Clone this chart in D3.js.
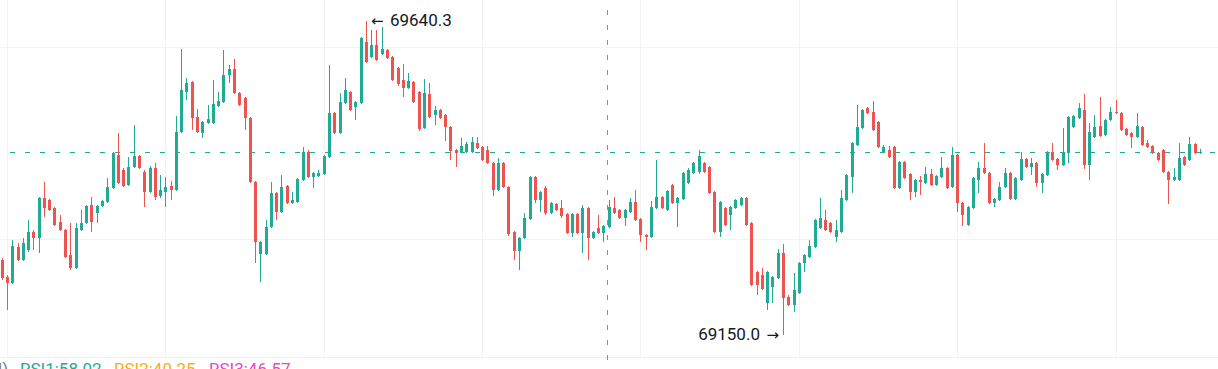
<!DOCTYPE html>
<html>
<head>
<meta charset="utf-8">
<script src="https://cdn.jsdelivr.net/npm/d3@7"></script>
<style>
  html, body { margin: 0; padding: 0; background: #ffffff; }
  svg { display: block; }
</style>
</head>
<body>
<div id="chart"></div>
<script>
// OHLC series (one entry per candle, left to right)
const opens = [
  69267,69241,69231,69287,69267,69283,69311,69302,69364,69361,
  69348,69327,69314,69275,69255,69314,69325,69353,69341,69352,
  69358,69380,69431,69408,69384,69412,69430,69405,69373,69411,
  69367,69373,69383,69377,69467,69530,69545,69491,69466,69481,
  69481,69508,69514,69556,69566,69528,69520,69489,69389,69277,
  69277,69319,69372,69342,69383,69356,69358,69392,69436,69397,
  69398,69402,69428,69497,69466,69513,69530,69506,69513,69608,
  69584,69603,69589,69595,69584,69567,69548,69536,69545,69530,
  69473,69527,69494,69502,69494,69475,69439,69436,69436,69436,
  69450,69444,69439,69419,69377,69419,69381,69311,69281,69302,
  69331,69397,69361,69380,69341,69355,69348,69339,69309,69339,
  69309,69348,69302,69317,69309,69319,69348,69345,69333,69342,
  69358,69331,69306,69303,69348,69366,69345,69384,69356,69362,
  69387,69403,69405,69419,69412,69373,69311,69348,69338,69348,
  69353,69364,69325,69248,69244,69200,69225,69239,69278,69209,
  69197,69216,69262,69272,69287,69317,69330,69325,69303,69311,
  69361,69397,69447,69473,69505,69498,69483,69436,69439,69444,
  69380,69420,69402,69373,69392,69387,69402,69384,69397,69411,
  69381,69431,69356,69322,69348,69392,69411,69403,69356,69361,
  69381,69403,69362,69392,69425,69412,69419,69387,69400,69436,
  69425,69416,69434,69475,69489,69502,69416,69459,69477,69462,
  69486,69498,69497,69472,69466,69459,69475,69450,69445,69434,
  69439,69405,69392,69392,69428,69423,69448,69434
];
const highs = [
  69270,69244,69298,69294,69302,69330,69314,69365,69389,69362,
  69350,69338,69316,69325,69325,69345,69353,69366,69353,69361,
  69395,69436,69466,69411,69428,69478,69431,69408,69414,69419,
  69400,69397,69391,69492,69597,69552,69547,69503,69484,69509,
  69548,69530,69595,69572,69581,69530,69522,69491,69391,69297,
  69330,69389,69373,69400,69384,69373,69395,69444,69439,69405,
  69408,69431,69572,69498,69528,69552,69531,69516,69616,69640.3,
  69627,69627,69631,69597,69586,69569,69573,69559,69547,69531,
  69550,69544,69508,69503,69495,69477,69441,69458,69452,69459,
  69459,69445,69445,69420,69427,69420,69383,69312,69303,69341,
  69398,69398,69375,69383,69358,69356,69361,69341,69341,69341,
  69353,69350,69312,69338,69322,69361,69366,69347,69347,69364,
  69377,69333,69308,69359,69423,69367,69377,69386,69366,69405,
  69411,69420,69439,69420,69414,69375,69359,69350,69352,69362,
  69366,69366,69327,69250,69255,69250,69242,69284,69292,69212,
  69247,69264,69277,69298,69331,69364,69345,69327,69330,69377,
  69402,69452,69509,69503,69506,69516,69484,69447,69445,69445,
  69422,69422,69403,69394,69398,69412,69409,69400,69428,69412,
  69444,69433,69358,69352,69397,69420,69450,69405,69364,69389,
  69411,69405,69397,69436,69427,69427,69420,69403,69437,69450,
  69427,69473,69492,69494,69513,69527,69481,69494,69522,69488,
  69506,69517,69498,69473,69467,69497,69477,69455,69447,69436,
  69441,69406,69411,69450,69430,69459,69450,69441
];
const lows = [
  69236,69189,69230,69266,69266,69280,69283,69278,69334,69344,
  69320,69312,69270,69252,69253,69312,69323,69311,69325,69350,
  69356,69378,69386,69381,69383,69411,69409,69350,69372,69361,
  69364,69350,69361,69375,69466,69517,69470,69466,69458,69480,
  69480,69506,69513,69544,69527,69508,69470,69387,69262,69233,
  69275,69317,69330,69341,69355,69355,69356,69391,69395,69380,
  69397,69400,69427,69464,69464,69511,69500,69486,69511,69575,
  69583,69578,69587,69581,69547,69539,69522,69534,69513,69469,
  69472,69489,69478,69488,69453,69423,69412,69434,69434,69434,
  69441,69422,69417,69367,69375,69380,69305,69267,69252,69300,
  69330,69356,69342,69338,69339,69344,69333,69308,69303,69308,
  69278,69267,69300,69308,69295,69317,69339,69331,69320,69341,
  69328,69295,69283,69302,69347,69347,69344,69355,69319,69361,
  69386,69402,69402,69403,69370,69309,69303,69320,69314,69347,
  69352,69320,69227,69212,69220,69189,69200,69237,69150.0,69195,
  69186,69214,69248,69270,69286,69316,69312,69309,69295,69309,
  69359,69372,69445,69472,69495,69469,69442,69434,69427,69378,
  69378,69394,69361,69366,69369,69386,69383,69383,69395,69378,
  69380,69342,69320,69320,69347,69372,69402,69355,69350,69359,
  69380,69361,69361,69391,69411,69400,69381,69372,69398,69422,
  69408,69414,69419,69473,69488,69409,69392,69458,69459,69461,
  69484,69495,69469,69461,69442,69458,69445,69442,69433,69422,
  69403,69355,69391,69391,69414,69422,69433,69433
];
const closes = [
  69239,69231,69289,69267,69294,69311,69302,69364,69348,69345,
  69322,69314,69272,69255,69317,69325,69352,69327,69352,69359,
  69381,69434,69387,69383,69412,69430,69411,69373,69411,69366,
  69377,69381,69377,69467,69533,69544,69489,69467,69483,69488,
  69511,69516,69556,69566,69528,69509,69489,69389,69295,69295,
  69319,69372,69342,69381,69356,69361,69394,69436,69397,69403,
  69403,69430,69497,69466,69514,69533,69502,69514,69614,69577,
  69603,69580,69597,69583,69548,69542,69536,69547,69514,69472,
  69528,69491,69502,69489,69475,69437,69434,69445,69448,69452,
  69442,69423,69419,69377,69419,69381,69308,69281,69302,69333,
  69397,69361,69373,69341,69356,69345,69336,69309,69339,69309,
  69348,69302,69311,69309,69320,69350,69341,69333,69345,69358,
  69330,69306,69303,69350,69366,69348,69375,69356,69364,69403,
  69408,69419,69430,69405,69372,69311,69358,69322,69350,69361,
  69364,69322,69228,69228,69222,69248,69241,69278,69208,69197,
  69220,69262,69275,69289,69330,69333,69314,69311,69314,69364,
  69400,69450,69475,69502,69497,69470,69444,69444,69428,69380,
  69420,69395,69373,69392,69389,69402,69384,69398,69411,69380,
  69431,69356,69338,69350,69395,69411,69403,69356,69362,69381,
  69403,69362,69395,69425,69412,69419,69387,69402,69436,69423,
  69416,69436,69491,69492,69505,69416,69467,69475,69461,69486,
  69498,69497,69470,69462,69459,69477,69447,69444,69434,69423,
  69405,69392,69397,69427,69416,69448,69434,69436
];

// price grid levels and vertical grid candles
const gridPrices = [69000, 69300, 69600];
const gridCandles = [1, 31, 61, 91, 121, 151, 181, 211];
const crosshairCandle = 115;

// legend of the lower pane (mostly cut off in the screenshot)
const rsiNames = ["RSI1", "RSI2", "RSI3"];
const rsiValues = [58.02, 40.25, 46.57];
const rsiColors = ["#22ab94", "#f5b014", "#e24bc4"];

const W = 1218, H = 369;
const upColor = "#22ab94", downColor = "#ef5350";

const candles = opens.map((o, i) => ({ i, o, h: highs[i], l: lows[i], c: closes[i] }));

const svg = d3.select("#chart").append("svg")
  .attr("width", W).attr("height", H)
  .style("font-family", "Roboto, 'Noto Sans', sans-serif");

svg.append("rect").attr("width", W).attr("height", H).attr("fill", "#ffffff");

// x: candle index -> pixel centre; y: price -> pixel
const x = d3.scaleLinear().domain([0, candles.length - 1]).range([1.7, 1200]);
const y = d3.scaleLinear().domain([69300, 69600]).range([239, 47]);

// grid
svg.append("g").selectAll("line").data(gridPrices).join("line")
  .attr("x1", 0).attr("x2", W)
  .attr("y1", d => Math.round(y(d)) + 0.5).attr("y2", d => Math.round(y(d)) + 0.5)
  .attr("stroke", "#f2f3f5");
svg.append("g").selectAll("line").data(gridCandles).join("line")
  .attr("x1", d => Math.round(x(d)) + 0.5).attr("x2", d => Math.round(x(d)) + 0.5)
  .attr("y1", 0).attr("y2", 357)
  .attr("stroke", "#f2f3f5");
// pane separator
svg.append("line").attr("x1", 0).attr("x2", W).attr("y1", 357.5).attr("y2", 357.5)
  .attr("stroke", "#f0f1f3");

// last price line
const lastClose = closes[closes.length - 1];
svg.append("line")
  .attr("x1", 0).attr("x2", W)
  .attr("y1", Math.round(y(lastClose)) + 0.5).attr("y2", Math.round(y(lastClose)) + 0.5)
  .attr("stroke", upColor).attr("stroke-width", 1)
  .attr("stroke-dasharray", "5,10").attr("stroke-dashoffset", 5);

// candles
const g = svg.append("g").attr("shape-rendering", "crispEdges");
const cg = g.selectAll("g.candle").data(candles).join("g")
  .attr("class", "candle")
  .attr("fill", d => d.c >= d.o ? upColor : downColor);

cg.append("rect")
  .attr("x", d => Math.round(x(d.i)))
  .attr("width", 1)
  .attr("y", d => y(d.h))
  .attr("height", d => Math.max(1, y(d.l) - y(d.h)));

cg.append("rect")
  .attr("x", d => Math.round(x(d.i)) - 1)
  .attr("width", 3)
  .attr("y", d => y(Math.max(d.o, d.c)))
  .attr("height", d => Math.max(1, Math.abs(y(d.o) - y(d.c))));

// crosshair
const cx = Math.floor(x(crosshairCandle)) - 0.5;
svg.append("line")
  .attr("x1", cx).attr("x2", cx)
  .attr("y1", 0).attr("y2", H)
  .attr("stroke", "#8a8d96").attr("stroke-width", 1)
  .attr("stroke-dasharray", "5,10").attr("stroke-dashoffset", 5);

// high / low markers
const fmt = d3.format(".1f");
const hi = d3.maxIndex(highs), lo = d3.minIndex(lows);

svg.append("text")
  .attr("x", x(hi) + 5).attr("y", y(highs[hi]) + 5)
  .attr("font-size", 15).attr("fill", "#131722")
  .style("font-family", "'DejaVu Sans', sans-serif")
  .text("←");
svg.append("text")
  .attr("x", x(hi) + 24).attr("y", y(highs[hi]) + 5)
  .attr("font-size", 17).attr("fill", "#131722")
  .text(fmt(highs[hi]));

svg.append("text")
  .attr("x", x(lo) - 23).attr("y", y(lows[lo]) + 5)
  .attr("text-anchor", "end")
  .attr("font-size", 17).attr("fill", "#131722")
  .text(fmt(lows[lo]));
svg.append("text")
  .attr("x", x(lo) - 4).attr("y", y(lows[lo]) + 5)
  .attr("text-anchor", "end")
  .attr("font-size", 15).attr("fill", "#131722")
  .style("font-family", "'DejaVu Sans', sans-serif")
  .text("→");

// lower pane legend
const legend = svg.append("g").attr("font-size", 17);
legend.append("text").attr("x", -2).attr("y", 375).attr("fill", "#787b86").text("l)");
const legendX = [20, 114, 209];
legend.selectAll("text.rsi").data(rsiNames).join("text")
  .attr("class", "rsi")
  .attr("x", (d, i) => legendX[i]).attr("y", 375)
  .attr("fill", (d, i) => rsiColors[i])
  .text((d, i) => `${d}:${rsiValues[i].toFixed(2)}`);
</script>
</body>
</html>
